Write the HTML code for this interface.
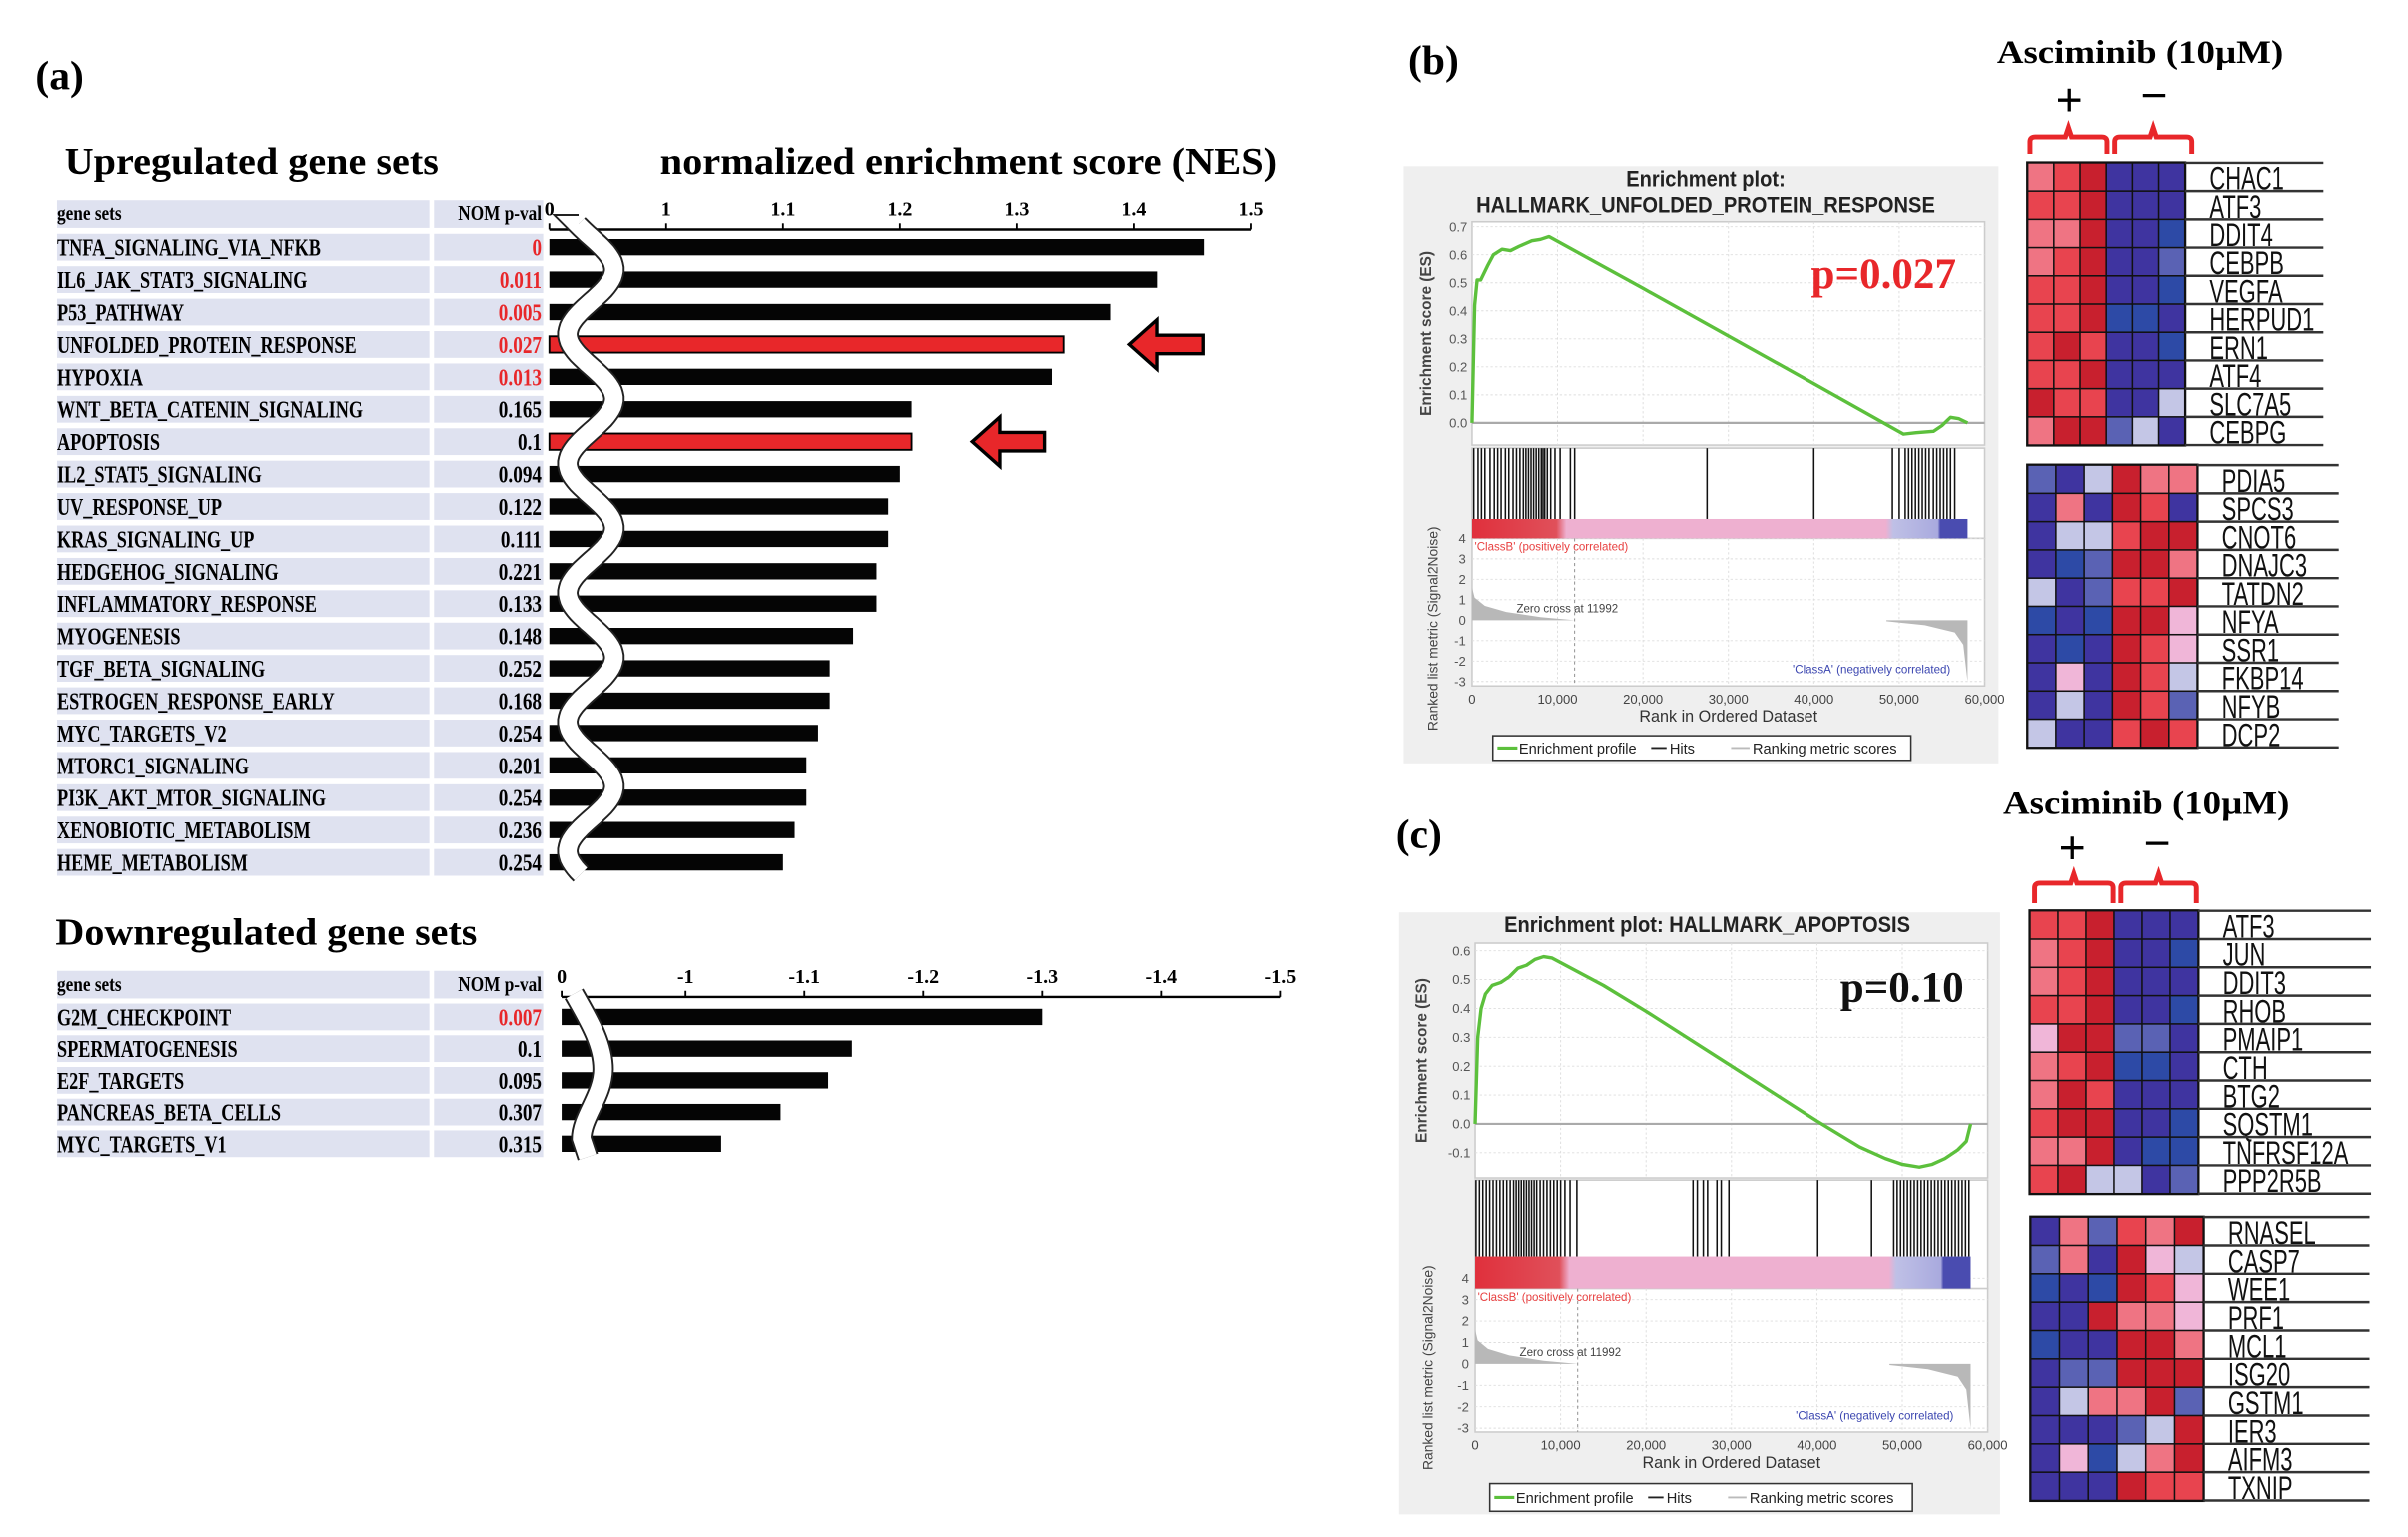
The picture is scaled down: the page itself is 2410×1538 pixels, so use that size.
<!DOCTYPE html>
<html><head><meta charset="utf-8"><style>
html,body{margin:0;padding:0;background:#fff;}
svg{display:block;}
</style></head><body>
<svg id="fig" width="2410" height="1538" viewBox="0 0 1565 998.7" preserveAspectRatio="none" xmlns="http://www.w3.org/2000/svg" font-family="'Liberation Serif', serif">
</svg>
<script>
// ---------- data ----------
const upSets = ["TNFA_SIGNALING_VIA_NFKB","IL6_JAK_STAT3_SIGNALING","P53_PATHWAY","UNFOLDED_PROTEIN_RESPONSE","HYPOXIA","WNT_BETA_CATENIN_SIGNALING","APOPTOSIS","IL2_STAT5_SIGNALING","UV_RESPONSE_UP","KRAS_SIGNALING_UP","HEDGEHOG_SIGNALING","INFLAMMATORY_RESPONSE","MYOGENESIS","TGF_BETA_SIGNALING","ESTROGEN_RESPONSE_EARLY","MYC_TARGETS_V2","MTORC1_SIGNALING","PI3K_AKT_MTOR_SIGNALING","XENOBIOTIC_METABOLISM","HEME_METABOLISM"];
const upPvals = ["0","0.011","0.005","0.027","0.013","0.165","0.1","0.094","0.122","0.111","0.221","0.133","0.148","0.252","0.168","0.254","0.201","0.254","0.236","0.254"];
const upNES = [1.46,1.42,1.38,1.34,1.33,1.21,1.21,1.20,1.19,1.19,1.18,1.18,1.16,1.14,1.14,1.13,1.12,1.12,1.11,1.10];
const upHighlight = [3,6];
const upTicks = [1,1.1,1.2,1.3,1.4,1.5];
const upTickLabels = ["1","1.1","1.2","1.3","1.4","1.5"];

const downSets = ["G2M_CHECKPOINT","SPERMATOGENESIS","E2F_TARGETS","PANCREAS_BETA_CELLS","MYC_TARGETS_V1"];
const downPvals = ["0.007","0.1","0.095","0.307","0.315"];
const downNES = [-1.30,-1.14,-1.12,-1.08,-1.03];
const downTicks = [-1,-1.1,-1.2,-1.3,-1.4,-1.5];
const downTickLabels = ["-1","-1.1","-1.2","-1.3","-1.4","-1.5"];

const esRanksB = [0,300,600,1000,1800,2500,3500,4500,5500,7000,8000,9000,20000,30000,40000,50500,52000,54000,55000,56000,57000,58000];
const esValsB  = [0,0.42,0.51,0.51,0.56,0.60,0.62,0.615,0.63,0.65,0.655,0.665,0.48,0.31,0.14,-0.04,-0.035,-0.03,-0.01,0.02,0.015,0.0];
const hitsB = [200,700,1100,1500,2100,2600,3000,3400,3900,4300,4800,5200,5600,6000,6300,6600,6900,7200,7500,7800,8100,8300,8500,8800,9200,9700,10300,11500,12000,27500,40000,49200,50000,50700,51100,51500,51900,52300,52700,53100,53500,54000,54400,54800,55200,55600,56000,56500];

const esRanksC = [0,300,700,1200,2000,3000,4000,5000,6000,7000,8000,9000,15000,20000,30000,40000,45000,48000,50000,52000,53500,55000,56500,57500,58000];
const esValsC  = [0,0.3,0.40,0.45,0.48,0.49,0.51,0.54,0.55,0.57,0.58,0.575,0.48,0.39,0.20,0.01,-0.08,-0.12,-0.14,-0.15,-0.14,-0.12,-0.09,-0.06,0.0];
const hitsC = [100,500,900,1300,1700,2100,2500,2900,3300,3700,4100,4500,4800,5100,5400,5700,6000,6300,6600,6900,7200,7600,8000,8400,8800,9200,9600,10000,10500,11100,11900,25500,26000,26700,27200,28300,28800,29700,40100,46400,49000,49400,49800,50200,50600,51000,51400,51800,52200,52600,53000,53400,53800,54200,54600,55000,55400,55800,56200,56600,57000,57400,57800];

const heatB1Genes = ["CHAC1","ATF3","DDIT4","CEBPB","VEGFA","HERPUD1","ERN1","ATF4","SLC7A5","CEBPG"];
const heatB1 = ["prRDDD","rrRDDD","ppRDDB","prRDDb","rrRDDB","rrRBBD","rRrDDB","rrRDDD","RrrDDl","pRRblD"];
const heatB2Genes = ["PDIA5","SPCS3","CNOT6","DNAJC3","TATDN2","NFYA","SSR1","FKBP14","NFYB","DCP2"];
const heatB2 = ["bDlRpp","DpDRrD","DllrRR","DBbRRp","lDbrrR","BDBRRP","DBDRrP","DPDRrl","DlDRrb","lDDrRr"];
const heatC1Genes = ["ATF3","JUN","DDIT3","RHOB","PMAIP1","CTH","BTG2","SQSTM1","TNFRSF12A","PPP2R5B"];
const heatC1 = ["rrRDDD","prRDDB","prRDDD","rrRDDB","PRRbbD","prRBBD","pRrDDD","rRRDDB","ppRDBB","rRllDb"];
const heatC2Genes = ["RNASEL","CASP7","WEE1","PRF1","MCL1","ISG20","GSTM1","IER3","AIFM3","TXNIP"];
const heatC2 = ["DpbrpR","bpDRPl","BDBRrP","DDRppP","BDDRRp","DbbRRR","DlppRb","DDDblR","DPBlpR","DDDRrr"];
const heatColors = {R:"#c8202e",r:"#e8444f",p:"#ef7483",P:"#f0b6d8",l:"#c4c6e6",b:"#5a62b4",B:"#2d4aa6",D:"#3f34a0"};

// ---------- helpers ----------
const NS = "http://www.w3.org/2000/svg";
const svg = document.getElementById("fig");
function mk(tag, attrs, parent) {
  const e = document.createElementNS(NS, tag);
  for (const k in attrs) e.setAttribute(k, attrs[k]);
  (parent || svg).appendChild(e);
  return e;
}
function txt(s, attrs, parent) { const t = mk("text", attrs, parent); t.textContent = s; return t; }
function squeeze(t, f) { const w = t.getComputedTextLength(); t.setAttribute("textLength", (w * f).toFixed(1)); t.setAttribute("lengthAdjust", "spacingAndGlyphs"); }

// ---------- panel (a) ----------
let e;
e = txt("(a)", {x:23, y:58, "font-size":27, "font-weight":"bold"});



e = txt("Upregulated gene sets", {x:42, y:113, "font-size":25, "font-weight":"bold"});


e.setAttribute("textLength", 243); e.setAttribute("lengthAdjust", "spacingAndGlyphs");
e = txt("normalized enrichment score (NES)", {x:429, y:113, "font-size":25, "font-weight":"bold"});


e.setAttribute("textLength", 401); e.setAttribute("lengthAdjust", "spacingAndGlyphs");

function tableBlock(sets, pvals, y0, rowH, headY, isUp) {
  const g = mk("g", {});
  
  
  mk("rect", {x:37, y:headY-9, width:242, height:18, fill:"#dfe2f0"}, g);
  mk("rect", {x:282, y:headY-9, width:71, height:18, fill:"#dfe2f0"}, g);
  let h = txt("gene sets", {x:37, y:headY+4, "font-size":14, "font-weight":"bold"}, g);
  
  
  squeeze(h, 0.8);
  h = txt("NOM p-val", {x:352, y:headY+4, "font-size":14, "font-weight":"bold", "text-anchor":"end"}, g);
  
  
  squeeze(h, 0.8);
  sets.forEach((s, i) => {
    const cy = y0 + i * rowH;
    mk("rect", {x:37, y:cy-8.7, width:242, height:17.4, fill:"#dfe2f0"}, g);
    mk("rect", {x:282, y:cy-8.7, width:71, height:17.4, fill:"#dfe2f0"}, g);
    const t = txt(s, {x:37, y:cy+5.5, "font-size":16, "font-weight":"bold"}, g);
    
    
    squeeze(t, 0.74);
    const pv = parseFloat(pvals[i]);
    const p = txt(pvals[i], {x:352, y:cy+5.5, "font-size":16, "font-weight":"bold", "text-anchor":"end", fill: pv < 0.05 ? "#e8272a" : "#000"}, g);
    
    
    squeeze(p, 0.78);
  });
}

// up chart axes
const upX0 = 357, upX1 = 433, upPer = 760; // px per NES unit
function upScale(v) { return upX1 + (v - 1) * upPer; }
const upRow0 = 160.5, upRowH = 21.05;
tableBlock(upSets, upPvals, upRow0, upRowH, 139, true);
e = mk("line", {x1:upX0, y1:149, x2:upScale(1.5), y2:149, stroke:"#000", "stroke-width":1.6});


e = mk("line", {x1:upX0, y1:145, x2:upX0, y2:149, stroke:"#000", "stroke-width":1.2});
e = txt("0", {x:upX0, y:140, "font-size":13, "font-weight":"bold", "text-anchor":"middle"});


upTicks.forEach((v, i) => {
  const x = upScale(v);
  const tk = mk("line", {x1:x, y1:145, x2:x, y2:149, stroke:"#000", "stroke-width":1.2});
  
  
  const tl = txt(upTickLabels[i], {x:x, y:140, "font-size":13, "font-weight":"bold", "text-anchor":"middle"});
  
  
});
upNES.forEach((v, i) => {
  const cy = upRow0 + i * upRowH;
  const hl = upHighlight.includes(i);
  const b = mk("rect", {x:upX0, y:cy-5.3, width:upScale(v)-upX0, height:10.6, fill: hl ? "#e8272a" : "#050505", stroke: hl ? "#000" : "none", "stroke-width":1.2});
  
  
});
// break wave (up)
function wave(x, yTop, yBot, amp, period) {
  let d = "M" + (x - 8) + " " + yTop;
  for (let y = yTop; y <= yBot; y += 2) {
    const xx = x + amp * Math.sin((y - yTop) / period * 2 * Math.PI - 0.6);
    d += " L" + xx.toFixed(1) + " " + y;
  }
  return d;
}
const wd = wave(384, 146, 568, 15, 84);
e = mk("path", {d:wd, fill:"none", stroke:"#222", "stroke-width":14});


e = mk("path", {d:wd, fill:"none", stroke:"#fff", "stroke-width":11.5});



function arrow(tipX, cy, tailX) {
  const d = `M${tipX} ${cy} L${tipX+18} ${cy-16} L${tipX+18} ${cy-6} L${tailX} ${cy-6} L${tailX} ${cy+6} L${tipX+18} ${cy+6} L${tipX+18} ${cy+16} Z`;
  return mk("path", {d:d, fill:"#e8272a", stroke:"#000", "stroke-width":2.2, "stroke-linejoin":"miter"});
}
e = arrow(734, upRow0 + 3 * upRowH, 782);


e = arrow(632, upRow0 + 6 * upRowH, 679);



// down chart
e = txt("Downregulated gene sets", {x:36, y:614, "font-size":25, "font-weight":"bold"});


e.setAttribute("textLength", 274); e.setAttribute("lengthAdjust", "spacingAndGlyphs");
const dnX0 = 365, dnX1 = 445.6, dnPer = 773;
function dnScale(v) { return dnX1 + (-v - 1) * dnPer; }
const dnRow0 = 661, dnRowH = 20.6;
tableBlock(downSets, downPvals, dnRow0, dnRowH, 640, false);
e = mk("line", {x1:dnX0, y1:648, x2:dnScale(-1.5), y2:648, stroke:"#000", "stroke-width":1.6});


mk("line", {x1:dnX0, y1:644, x2:dnX0, y2:648, stroke:"#000", "stroke-width":1.2});
e = txt("0", {x:dnX0, y:639, "font-size":13, "font-weight":"bold", "text-anchor":"middle"});


downTicks.forEach((v, i) => {
  const x = dnScale(v);
  const tk = mk("line", {x1:x, y1:644, x2:x, y2:648, stroke:"#000", "stroke-width":1.2});
  
  
  const tl = txt(downTickLabels[i], {x:x, y:639, "font-size":13, "font-weight":"bold", "text-anchor":"middle"});
  
  
});
downNES.forEach((v, i) => {
  const cy = dnRow0 + i * dnRowH;
  const b = mk("rect", {x:dnX0, y:cy-5.3, width:dnScale(v)-dnX0, height:10.6, fill:"#050505"});
  
  
});
const wd2 = `M373 646 C382 662, 392 678, 392 695 C392 712, 378 726, 378 740 L382 752`;
e = mk("path", {d:wd2, fill:"none", stroke:"#222", "stroke-width":14});


e = mk("path", {d:wd2, fill:"none", stroke:"#fff", "stroke-width":11.5});



// ---------- GSEA plots ----------
function gsea(cfg) {
  const g = mk("g", {"font-family":"'Liberation Sans', sans-serif"});
  
  
  const bg = mk("rect", {x:cfg.bx, y:cfg.by, width:cfg.bw, height:cfg.bh, fill:"#efefef"}, g);
  
  
  const X = r => cfg.px0 + (r / 60000) * (cfg.px1 - cfg.px0);
  const Y = v => cfg.es0 - v * cfg.esPer;
  const R = v => cfg.rk0 - v * cfg.rkPer;
  const pw = cfg.px1 - cfg.px0;
  mk("rect", {x:cfg.px0, y:cfg.esTop, width:pw, height:cfg.esBot-cfg.esTop, fill:"#fff", stroke:"#ccc", "stroke-width":1}, g);
  mk("rect", {x:cfg.px0, y:cfg.hitTop, width:pw, height:cfg.barBot-cfg.hitTop, fill:"#fff", stroke:"#ccc", "stroke-width":1}, g);
  mk("rect", {x:cfg.px0, y:cfg.barBot, width:pw, height:cfg.rkBot-cfg.barBot, fill:"#fff", stroke:"#ccc", "stroke-width":1}, g);
  for (let r = 10000; r < 60000; r += 10000) {
    mk("line", {x1:X(r), y1:cfg.esTop, x2:X(r), y2:cfg.esBot, stroke:"#ddd", "stroke-width":0.6, "stroke-dasharray":"1.5 1.5"}, g);
    mk("line", {x1:X(r), y1:cfg.barBot, x2:X(r), y2:cfg.rkBot, stroke:"#ddd", "stroke-width":0.6, "stroke-dasharray":"1.5 1.5"}, g);
  }
  cfg.esTicks.forEach(v => {
    mk("line", {x1:cfg.px0, y1:Y(v), x2:cfg.px1, y2:Y(v), stroke: v === 0 ? "#aaa" : "#ddd", "stroke-width": v === 0 ? 1.4 : 0.6, "stroke-dasharray": v === 0 ? "" : "1.5 1.5"}, g);
    const t = txt(v.toFixed(1), {x:cfg.px0-3, y:Y(v)+3, "font-size":8.5, fill:"#555", "text-anchor":"end"}, g);
    
    
  });
  [4,3,2,1,0,-1,-2,-3].forEach(v => {
    if (v !== 0) mk("line", {x1:cfg.px0, y1:R(v), x2:cfg.px1, y2:R(v), stroke:"#ddd", "stroke-width":0.6, "stroke-dasharray":"1.5 1.5"}, g);
    const t = txt(String(v), {x:cfg.px0-4, y:R(v)+3, "font-size":8.5, fill:"#555", "text-anchor":"end"}, g);
    
    
  });
  cfg.title.forEach((s, i) => {
    const t = txt(s, {x:(cfg.bx*2+cfg.bw)/2 + (cfg.titleDx||0), y:cfg.titleY + i*17, "font-size":14.5, "font-weight":"bold", "text-anchor":"middle", fill:"#222"}, g);
    
    
    squeeze(t, 0.9);
  });
  const pts = cfg.esR.map((r, i) => X(r).toFixed(1) + "," + Y(cfg.esV[i]).toFixed(1)).join(" ");
  const pl = mk("polyline", {points:pts, fill:"none", stroke:"#5cc03c", "stroke-width":2.2, "stroke-linejoin":"round"}, g);
  
  
  cfg.hits.forEach(r => {
    const h = mk("line", {x1:X(r), y1:cfg.hitTop, x2:X(r), y2:cfg.barTop, stroke:"#111", "stroke-width":1}, g);
    
    
  });
  const gradId = cfg.name + "-grad";
  const defs = mk("defs", {}, g);
  const lg = mk("linearGradient", {id:gradId, x1:0, x2:1, y1:0, y2:0}, defs);
  [[0,"#e0303c"],[0.17,"#e0505a"],[0.19,"#eeb0d0"],[0.835,"#eeb0d0"],[0.85,"#bfc0e6"],[0.94,"#a9aade"],[0.945,"#4a4cb0"],[1,"#4a4cb0"]].forEach(s => mk("stop", {offset:s[0], "stop-color":s[1]}, lg));
  const cb = mk("rect", {x:X(0), y:cfg.barTop, width:X(58000)-X(0), height:cfg.barBot-cfg.barTop, fill:`url(#${gradId})`}, g);
  
  
  const area = `M${X(0)} ${R(0)} L${X(0)} ${R(1.6)} L${X(300)} ${R(1.1)} L${X(1500)} ${R(0.7)} L${X(4000)} ${R(0.4)} L${X(8000)} ${R(0.15)} L${X(11992)} ${R(0)} Z M${X(48500)} ${R(0)} L${X(48500)} ${R(-0.05)} L${X(53000)} ${R(-0.25)} L${X(56500)} ${R(-0.6)} L${X(57500)} ${R(-1.2)} L${X(58000)} ${R(-3)} L${X(58000)} ${R(0)} Z`;
  const ar = mk("path", {d:area, fill:"#b8b8b8"}, g);
  
  
  mk("line", {x1:X(11992), y1:cfg.barBot, x2:X(11992), y2:cfg.rkBot, stroke:"#999", "stroke-width":0.7, "stroke-dasharray":"2 2"}, g);
  let t = txt("Zero cross at 11992", {x:X(5200), y:R(0)-5, "font-size":7.5, fill:"#444"}, g);
   
  t = txt("'ClassB' (positively correlated)", {x:X(300), y:cfg.barBot+8, "font-size":7.5, fill:"#e84040"}, g);
   
  t = txt("'ClassA' (negatively correlated)", {x:X(56000), y:R(-2.6), "font-size":7.5, fill:"#3b46b0", "text-anchor":"end"}, g);
   
  ["0","10,000","20,000","30,000","40,000","50,000","60,000"].forEach((s, i) => {
    const tl = txt(s, {x:X(i*10000), y:cfg.xLabY, "font-size":8.5, fill:"#444", "text-anchor":"middle"}, g);
     
  });
  t = txt("Rank in Ordered Dataset", {x:(cfg.px0+cfg.px1)/2, y:cfg.xTitleY, "font-size":10.5, fill:"#333", "text-anchor":"middle"}, g);
   
  t = txt("Enrichment score (ES)", {x:0, y:0, "font-size":10, "font-weight":"bold", fill:"#444", "text-anchor":"middle", transform:`translate(${cfg.bx+18},${(cfg.esTop+cfg.esBot)/2}) rotate(-90)`}, g);
   
  t = txt("Ranked list metric (Signal2Noise)", {x:0, y:0, "font-size":9, fill:"#444", "text-anchor":"middle", transform:`translate(${cfg.bx+22},${(cfg.hitTop+cfg.rkBot)/2+40}) rotate(-90)`}, g);
   
  const lgG = mk("g", {}, g);
  
  
  mk("rect", {x:cfg.lx, y:cfg.ly, width:cfg.lw, height:cfg.lh, fill:"#fff", stroke:"#333", "stroke-width":1}, lgG);
  const my = cfg.ly + cfg.lh/2;
  mk("line", {x1:cfg.lx+3, y1:my, x2:cfg.lx+16, y2:my, stroke:"#5cc03c", "stroke-width":2}, lgG);
  txt("Enrichment profile", {x:cfg.lx+17, y:my+3.5, "font-size":9.5, fill:"#222"}, lgG);
  mk("line", {x1:cfg.lx+103, y1:my, x2:cfg.lx+113, y2:my, stroke:"#222", "stroke-width":1.2}, lgG);
  txt("Hits", {x:cfg.lx+115, y:my+3.5, "font-size":9.5, fill:"#222"}, lgG);
  mk("line", {x1:cfg.lx+155, y1:my, x2:cfg.lx+167, y2:my, stroke:"#bbb", "stroke-width":1.2}, lgG);
  txt("Ranking metric scores", {x:cfg.lx+169, y:my+3.5, "font-size":9.5, fill:"#222"}, lgG);
  t = txt(cfg.pText, {x:cfg.pX, y:cfg.pY, "font-size":28, "font-weight":"bold", fill:cfg.pColor, "font-family":"'Liberation Serif', serif"}, g);
   
}

gsea({name:"gsea-plot-upr", bx:912, by:108, bw:387, bh:388,
  px0:956.5, px1:1290, esTop:144, esBot:289, es0:274.6, esPer:182, esTicks:[0,0.1,0.2,0.3,0.4,0.5,0.6,0.7],
  hitTop:291, barTop:337, barBot:349.6, rk0:402.8, rkPer:13.3, rkBot:445.6,
  xLabY:457, xTitleY:469, lx:970, ly:478, lw:272, lh:16,
  title:["Enrichment plot:","HALLMARK_UNFOLDED_PROTEIN_RESPONSE"], titleY:121, titleDx:3,
  esR:esRanksB, esV:esValsB, hits:hitsB, pText:"p=0.027", pX:1177, pY:187, pColor:"#e8272a"});

gsea({name:"gsea-plot-apoptosis", bx:909, by:593, bw:391, bh:391,
  px0:958.5, px1:1292, esTop:613, esBot:765.6, es0:730.5, esPer:187.5, esTicks:[-0.1,0,0.1,0.2,0.3,0.4,0.5,0.6],
  hitTop:767, barTop:816.6, barBot:837.4, rk0:886.3, rkPer:13.9, rkBot:930.5,
  xLabY:942, xTitleY:954, lx:968, ly:964, lw:275, lh:18,
  title:["Enrichment plot: HALLMARK_APOPTOSIS"], titleY:606, titleDx:5,
  esR:esRanksC, esV:esValsC, hits:hitsC, pText:"p=0.10", pX:1196, pY:651, pColor:"#111"});

// ---------- heatmaps ----------
function heatmap(name, genes, rows, x0, x1, y0, y1, lineEnd) {
  const g = mk("g", {});
  
  
  const cw = (x1 - x0) / 6, rh = (y1 - y0) / rows.length;
  mk("rect", {x:x0-1, y:y0-1, width:x1-x0+2, height:y1-y0+2, fill:"#111"}, g);
  rows.forEach((r, i) => {
    for (let j = 0; j < 6; j++) {
      const c = mk("rect", {x:x0 + j*cw + 0.5, y:y0 + i*rh + 0.5, width:cw-1, height:rh-1, fill:heatColors[r[j]]}, g);
      
      
    }
    const ln = mk("line", {x1:x1, y1:y0 + i*rh, x2:lineEnd, y2:y0 + i*rh, stroke:"#333", "stroke-width":1.6}, g);
    
    
    const t = txt(genes[i], {x:x1 + 16, y:y0 + (i+1)*rh - 1, "font-size":21, fill:"#111", "font-family":"'Liberation Sans', sans-serif"}, g);
    
    
    squeeze(t, 0.68);
  });
  mk("line", {x1:x1, y1:y1, x2:lineEnd, y2:y1, stroke:"#333", "stroke-width":1.6}, g);
}
heatmap("heatmap-upr-up", heatB1Genes, heatB1, 1318, 1420, 105.8, 289, 1510);
heatmap("heatmap-upr-down", heatB2Genes, heatB2, 1318, 1428, 302, 485.6, 1520);
heatmap("heatmap-apoptosis-up", heatC1Genes, heatC1, 1319.5, 1428.6, 592, 775.8, 1541);
heatmap("heatmap-apoptosis-down", heatC2Genes, heatC2, 1320, 1432, 791, 975, 1540);

function header(lbl, lx, ly, ax, ay, aw, plusX, minusX, pmY, bx0, bmid, bx1, by0, by1, key) {
  let t = txt(lbl, {x:lx, y:ly, "font-size":27, "font-weight":"bold"});
  
  
  t = txt("Asciminib (10\u00b5M)", {x:ax, y:ay, "font-size":21, "font-weight":"bold"});
  
  
  t.setAttribute("textLength", aw); t.setAttribute("lengthAdjust", "spacingAndGlyphs");
  t = txt("+", {x:plusX, y:pmY, "font-size":30, "text-anchor":"middle", "font-family":"'Liberation Sans', sans-serif"});
  
  
  t = txt("\u2212", {x:minusX, y:pmY-3, "font-size":30, "text-anchor":"middle", "font-family":"'Liberation Sans', sans-serif"});
  
  
  [[bx0, bmid], [bmid + 2, bx1]].forEach((p, i) => {
    const a = p[0], b = p[1], m = (a + b) / 2, yb = by1, ym = by0 + 6;
    const d = `M${a+1.5} ${yb} L${a+1.5} ${ym+3} Q${a+1.5} ${ym} ${a+5} ${ym} L${m-2} ${ym} L${m} ${by0} L${m+2} ${ym} L${b-5} ${ym} Q${b-1.5} ${ym} ${b-1.5} ${ym+3} L${b-1.5} ${yb}`;
    const br = mk("path", {d:d, fill:"none", stroke:"#e8272a", "stroke-width":3.2});
    
    
  });
}
header("(b)", 915, 48, 1298, 41, 186, 1345, 1400, 75, 1318, 1371, 1426, 83, 100, "b");
header("(c)", 907, 551, 1302, 529, 186, 1347, 1402, 561, 1321, 1375, 1429, 568, 587, "c");
</script>
</body></html>
